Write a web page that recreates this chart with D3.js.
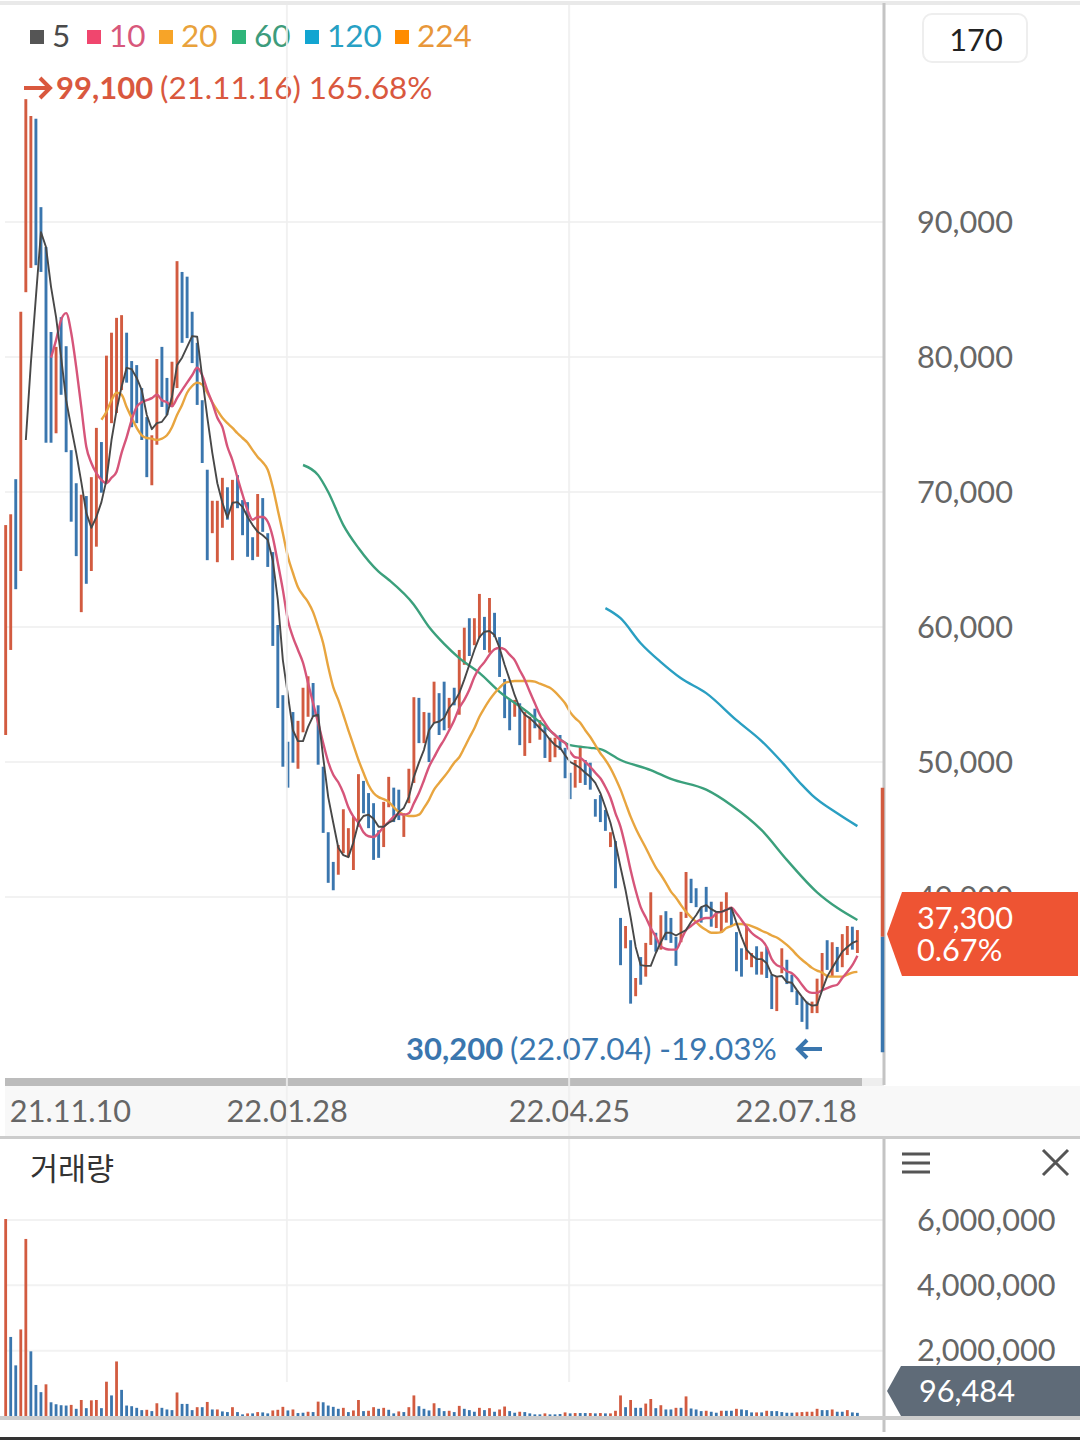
<!DOCTYPE html>
<html>
<head>
<meta charset="utf-8">
<title>chart</title>
<script src="https://cdn.jsdelivr.net/npm/d3@7/dist/d3.min.js"></script>
<style>
  html, body { margin: 0; padding: 0; background: #fff; }
  svg { display: block; }
  text { font-family: Lato, "Noto Sans", sans-serif; }
</style>
</head>
<body>
<svg id="chart" width="1080" height="1440"></svg>
<script>
// bar highs / lows in won, one per trading day
const highs = [
  67550,68350,70950,83350,99100,97850,97650,91100,88150,81850,
  80750,82950,80800,73100,70650,69800,69700,71100,74750,73700,
  80100,81800,82900,83100,81800,79700,79400,77700,75550,74200,
  79850,80750,78450,79650,87100,86300,85950,83350,81050,76800,
  71650,69350,69350,71050,70350,70900,71250,69400,69250,66650,
  69850,69550,66950,65550,60150,54950,51500,53700,53050,55500,
  56350,55850,54200,49650,44800,42600,43850,46500,45100,45950,
  49100,48600,47700,46950,44950,47050,48900,48100,47950,46200,
  49500,54800,54750,53700,53650,55950,55100,55950,54750,55500,
  58300,59950,60650,60650,62450,60750,62150,61050,59250,56150,
  54600,54600,54350,53700,53350,53950,53100,52600,51800,51800,
  52000,51050,49200,50150,51200,50150,49950,47250,47550,46450,
  44800,44150,38450,37850,36800,34000,35550,36600,40350,37350,
  38650,38950,38450,37050,38900,41850,41350,40650,39250,40750,
  39650,38900,39650,40350,39250,37400,36200,37850,35850,36350,
  35950,36300,34250,34100,36200,35350,34250,33050,32600,32250,
  32250,33950,35850,36800,36650,36300,37250,37850,37800,37550
];
const lows = [
  52000,58300,62800,64150,84800,86600,86800,86300,73650,73650,
  74350,77200,72950,67800,65250,61100,63200,64150,65950,69950,
  70650,75100,75850,77550,78100,74800,75100,73850,71100,70500,
  73500,76300,75700,76300,77700,81050,81400,79550,76450,72150,
  64950,66950,64800,67350,67950,64950,68800,66800,65200,64950,
  65200,67050,64450,58600,54000,49650,48100,49950,49500,52200,
  53350,53350,49800,44750,41050,40500,41650,43250,42950,42000,
  45200,46200,45100,42750,42900,43700,46650,45550,45700,44450,
  46950,48450,51400,51400,50000,52900,52000,52350,52500,54200,
  53500,57200,57850,58650,59200,58300,58100,59250,56300,53250,
  52350,53350,51250,50450,51400,52500,51650,50300,50000,50350,
  50900,48800,47250,48100,48450,48300,47950,45950,45550,44900,
  43700,40650,34950,36200,32100,32650,33500,34100,36450,35950,
  36100,36800,36600,34900,36650,38450,39550,39250,38100,38900,
  37800,37700,37350,38100,37850,34500,34100,35350,34800,34250,
  34250,34000,31700,31550,34350,33550,32950,32000,30750,30200,
  31400,31400,33200,34600,34100,34450,34800,35700,36100,35850
];
const barDirs = "RRBRRRBBBBRBBBBRBRRBRRRRBBBBBRRBBRRBBBBBBRRRBRBBBBRBBBBBBBRRRBBBBBRRRRRBBBBRRBBRRRBRBRBBRBRRBRRBRBBBBRBRRBRBRRBBBRRBBBBBRBBRBRBRRBRBBBRRBBBBBRRRBBBRRBRBBRRBBBBBRRRBRBRRBR";

// moving averages, read per bar, first value sits on bar maNStart
const ma5Start = 4;
const ma5 = [
  73850,79550,84450,89250,88150,85200,82950,80000,76800,74800,
  72900,70750,68450,67350,68150,69250,70900,73850,76050,77800,
  79200,79100,78450,77550,75700,74650,75100,75200,75700,77050,
  79400,79950,80750,81550,81500,78500,75550,72900,70650,69200,
  68100,69200,69250,68900,68150,67550,67050,66800,66450,64950,
  62000,57550,54950,52350,51550,51550,52600,53400,53500,50350,
  47400,45500,43650,43100,42950,44050,45500,46000,46100,45800,
  45200,45200,45500,45700,46300,46600,47400,48900,49950,50900,
  52350,52900,53000,53250,54000,54450,55100,56100,57200,58300,
  59250,59650,59700,59400,58450,57200,56100,54950,54000,53500,
  53250,52900,52500,52150,51650,51250,51050,50500,50000,49800,
  49550,49200,48900,48450,47700,46650,45500,44000,42200,40500,
  38500,36300,34950,34900,34900,35850,36650,37350,37350,37150,
  37350,37550,38150,38650,39250,39400,39100,38900,38900,39050,
  39200,38100,37050,36100,35700,35400,35400,35100,34250,34100,
  34150,33700,33650,33100,32600,32150,31950,32000,33100,34100,
  34750,35350,35950,36300,36600,36750
];
const ma10Start = 9;
const ma10 = [
  79950,81250,82750,83250,81800,79250,76300,73350,72150,71400,
  70900,70650,71050,71500,72900,74050,75350,76300,76650,76800,
  76950,77200,76800,76650,76350,76950,77550,78100,78650,79200,
  78650,77550,76600,75500,74800,73350,72350,71050,69800,68650,
  67950,68150,68150,67800,66650,64750,62750,60500,59250,58300,
  57350,55850,54350,52900,51400,50000,49050,48500,47700,46650,
  45950,45500,44800,44500,44450,44750,45200,45550,45950,46150,
  46100,46200,46950,47700,48650,49650,50350,51050,51650,52350,
  53100,54000,54600,55350,56300,56950,57400,57950,58350,58450,
  58350,57950,57550,56800,56100,55200,54350,53500,52900,52350,
  52000,51650,51400,50750,50350,50300,50000,49650,49200,48800,
  48150,47350,46200,45200,43700,42000,40500,39250,38500,37700,
  37050,36350,36150,36100,36100,36800,37550,37850,38150,38350,
  38450,38450,38800,38900,39050,39200,38800,38300,37800,37350,
  37050,36800,36300,35400,34950,34800,34500,34350,34000,33500,
  33050,32900,32900,33100,33250,33400,33500,34000,34450,34950,
  35650
];
const ma20Start = 19;
const ma20 = [
  75350,75950,76800,77350,77200,76300,75500,74750,74200,74000,
  73950,73850,73950,74200,74800,75700,76450,77350,77850,78100,
  77950,77350,76650,76050,75500,75100,74750,74350,74000,73650,
  73100,72600,72200,71650,70350,68650,66950,65200,64000,62950,
  62350,61850,61100,60000,58800,57050,55550,54600,53500,52350,
  51250,50150,49200,48300,47700,47400,47250,47050,46650,46300,
  46100,46000,46000,46100,46600,47200,47950,48450,48900,49400,
  49950,50350,51050,51800,52500,53350,54000,54600,55100,55500,
  55850,55950,56000,56000,56000,56000,55950,55800,55650,55500,
  55200,54800,54350,53700,53250,52900,52350,51850,51250,50650,
  50150,49550,48800,47950,46950,45950,45100,44350,43650,42900,
  42200,41650,41050,40400,39950,39400,38900,38500,38150,37800,
  37550,37350,37350,37400,37700,37850,38000,38000,37950,37850,
  37700,37500,37350,37150,37000,36750,36450,36100,35700,35350,
  35050,34750,34550,34400,34150,34100,34100,34100,34250,34400,
  34450
];
// slow averages, read at these bars
const ma60Bars = [59,62,64,67,70,74,76,81,84,87,90,94,98,103,107,112,116,118,122,128,132,139,144,150,155,161,165,169];
const ma60 = [72000,71250,70000,67550,65850,64100,63500,61650,60000,58750,57700,56600,55200,53850,52650,51250,51050,50950,50150,49400,48750,47950,46800,44950,42750,40350,39200,38300];
const ma120Bars = [119,122,126,130,134,139,145,150,154,158,160,165,169];
const ma120 = [61400,60650,58800,57400,56200,55100,53100,51550,50000,48300,47550,46200,45250];

// volume in thousands of shares
const volumesK = [
  6030,2420,1550,2650,5420,1980,950,730,970,420,
  360,330,320,340,220,490,240,480,490,240,
  1050,630,1670,800,320,300,250,180,190,150,
  390,250,200,180,720,370,370,180,270,270,
  430,200,200,140,120,270,120,50,80,80,
  120,110,80,170,190,280,170,200,90,100,
  130,120,440,420,320,280,220,250,120,170,
  490,150,160,270,220,250,190,80,140,120,
  270,630,300,220,170,390,240,150,160,120,
  310,220,180,130,250,180,240,130,200,290,
  150,100,130,120,80,50,50,80,50,50,
  60,110,80,90,90,90,90,80,90,80,
  80,160,630,270,490,250,250,380,520,240,
  330,200,200,250,250,600,230,200,150,160,
  130,100,160,160,160,220,200,180,110,110,
  110,160,150,150,120,100,100,110,120,130,
  130,220,180,180,200,130,130,180,110,96.484
];
const volumeDirs = "RBBRRBBBRBBBBRBRBRRBRBRBBBBBRBRBBBRBBBRBRBRBBRBBRBRBBRRRBRBBRBRBBBBRBRRBRRBRBBRBRRBBBRBBRBRBBBRBRBRRBBRBBBBRBBBRBRBBRBRBRRRBRBBRRBRBBRBRBBBRBBRBBRBBBRBRBBBBBRRRRRBBRBBRBB";

const priceTicks = [90000, 80000, 70000, 60000, 50000, 40000];
const volumeTicks = [6000000, 4000000, 2000000];
const dateBars = [13, 56, 112, 157];
const dateLabels = ["21.11.10", "22.01.28", "22.04.25", "22.07.18"];
const gridBars = [56, 112];
const legendLabels = ["5", "10", "20", "60", "120", "224"];
const legendSwatches = ["#555555", "#f0466e", "#f7a428", "#2fb57a", "#12a5d1", "#ff8c00"];
const legendColors = ["#4a4a4a", "#d8587c", "#e9a23b", "#3d9c7c", "#27a0c4", "#e8973a"];
const legendX = [30, 87, 159, 232, 305, 395];
const rangeBreaks = [48100, 37050, 28500]; // side gauge: top, current, bottom

const RED = "#d25b40", BLUE = "#3a76ae", GRID = "#f2f2f2", RULE = "#c4c4c4", TICK = "#666";
const LABEL_SIZE = 30.7;

const svg = d3.select("#chart");
const x = d3.scaleLinear().domain([0, 169]).range([5.67, 857.4]);
const y = d3.scaleLinear().domain([90000, 40000]).range([222, 897]);
const yVol = d3.scaleLinear().domain([0, 6000000]).range([1416, 1220]);

// horizontal grid
svg.append("g").selectAll("line").data(priceTicks).enter().append("line")
  .attr("x1", 5).attr("x2", 884).attr("y1", d => y(d)).attr("y2", d => y(d))
  .attr("stroke", GRID).attr("stroke-width", 2);
svg.append("g").selectAll("line").data(volumeTicks).enter().append("line")
  .attr("x1", 5).attr("x2", 884).attr("y1", d => yVol(d)).attr("y2", d => yVol(d))
  .attr("stroke", GRID).attr("stroke-width", 2);

// x axis band and scrollbar
svg.append("rect").attr("x", 5).attr("y", 1086).attr("width", 1075).attr("height", 50).attr("fill", "#f8f8f8");
svg.append("rect").attr("x", 862).attr("y", 1078).attr("width", 22).attr("height", 8).attr("fill", "#eeeeee");
svg.append("rect").attr("x", 5).attr("y", 1078).attr("width", 857).attr("height", 8).attr("fill", "#bcbcbc");

// price bars
svg.append("g").selectAll("line").data(highs).enter().append("line")
  .attr("x1", (d, i) => x(i)).attr("x2", (d, i) => x(i))
  .attr("y1", d => y(d)).attr("y2", (d, i) => y(lows[i]))
  .attr("stroke", (d, i) => barDirs[i] === "R" ? RED : BLUE)
  .attr("stroke-width", 2.9);

// moving averages
const line = d3.line().x(d => x(d[0])).y(d => y(d[1]));
const smooth = d3.line().x(d => x(d[0])).y(d => y(d[1])).curve(d3.curveMonotoneX);
function drawMa(gen, bars, values, color, width) {
  svg.append("path").datum(values.map((v, i) => [bars[i], v]))
    .attr("d", gen).attr("fill", "none")
    .attr("stroke", color).attr("stroke-width", width).attr("stroke-linejoin", "round");
}
const fromStart = (start, values) => values.map((v, i) => start + i);
drawMa(smooth, ma120Bars, ma120, "#2a9fc2", 2.4);
drawMa(smooth, ma60Bars, ma60, "#3ba07c", 2.4);
drawMa(smooth, fromStart(ma20Start, ma20), ma20, "#e8a53f", 2.4);
drawMa(smooth, fromStart(ma10Start, ma10), ma10, "#d6557a", 2.4);
drawMa(line, fromStart(ma5Start, ma5), ma5, "#484848", 1.9);

// volume bars
svg.append("g").selectAll("rect").data(volumesK).enter().append("rect")
  .attr("x", (d, i) => x(i) - 1.4).attr("width", 2.8)
  .attr("y", d => yVol(d * 1000)).attr("height", d => yVol(0) - yVol(d * 1000))
  .attr("fill", (d, i) => volumeDirs[i] === "R" ? RED : BLUE);

// legend
const legend = svg.append("g");
legend.selectAll("rect").data(legendLabels).enter().append("rect")
  .attr("x", (d, i) => legendX[i]).attr("y", 30).attr("width", 14).attr("height", 14)
  .attr("fill", (d, i) => legendSwatches[i]);
legend.selectAll("text").data(legendLabels).enter().append("text")
  .attr("x", (d, i) => legendX[i] + 22).attr("y", 47)
  .attr("font-size", 31.5).attr("fill", (d, i) => legendColors[i]).text(d => d);

// high / low notes
svg.append("path").attr("d", "M24,88H50M40,78L50,88L40,98").attr("fill", "none")
  .attr("stroke", "#d9583e").attr("stroke-width", 4);
svg.append("text").attr("x", 56).attr("y", 99).attr("font-size", 31).attr("font-weight", 700)
  .attr("fill", "#d9583e").text("99,100");
svg.append("text").attr("x", 160).attr("y", 99).attr("font-size", 31.4)
  .attr("fill", "#d9583e").text("(21.11.16) 165.68%");
svg.append("text").attr("x", 406).attr("y", 1060).attr("font-size", 31).attr("font-weight", 700)
  .attr("fill", BLUE).text("30,200");
svg.append("text").attr("x", 510).attr("y", 1060).attr("font-size", 31.5)
  .attr("fill", BLUE).text("(22.07.04) -19.03%");
svg.append("path").attr("d", "M822,1049H798M807,1040L798,1049L807,1058").attr("fill", "none")
  .attr("stroke", BLUE).attr("stroke-width", 4);

// right axes
const priceAxis = d3.axisRight(y).tickValues(priceTicks).tickSize(0).tickPadding(0).tickFormat(d3.format(","));
const volumeAxis = d3.axisRight(yVol).tickValues(volumeTicks).tickSize(0).tickPadding(0).tickFormat(d3.format(","));
[priceAxis, volumeAxis].forEach(axis => {
  const g = svg.append("g").attr("transform", "translate(917,0.5)").call(axis);
  g.select(".domain").remove();
  g.selectAll("text").attr("font-family", "Lato").attr("font-size", LABEL_SIZE).attr("fill", TICK);
});

// date labels
svg.append("g").selectAll("text").data(dateLabels).enter().append("text")
  .attr("x", (d, i) => x(dateBars[i]) - 0.7).attr("y", 1122)
  .attr("text-anchor", "middle").attr("font-size", LABEL_SIZE).attr("fill", TICK).text(d => d);

// vertical grid goes over the notes
svg.append("g").selectAll("line").data(gridBars).enter().append("line")
  .attr("x1", d => x(d) - 1).attr("x2", d => x(d) - 1).attr("y1", 3).attr("y2", 1382)
  .attr("stroke", "#eeeeee").attr("stroke-opacity", 0.85).attr("stroke-width", 2);

// frame rules
svg.append("rect").attr("x", 0).attr("y", 1).attr("width", 1080).attr("height", 4).attr("fill", "#e9e9e9");
svg.append("rect").attr("x", 882.5).attr("y", 3).attr("width", 3).attr("height", 1082).attr("fill", RULE);
svg.append("rect").attr("x", 882.5).attr("y", 1138).attr("width", 3).attr("height", 294).attr("fill", RULE);
svg.append("rect").attr("x", 0).attr("y", 1136).attr("width", 1080).attr("height", 3).attr("fill", "#cccccc");
svg.append("rect").attr("x", 0).attr("y", 1416).attr("width", 1080).attr("height", 4).attr("fill", "#cccccc");
svg.append("rect").attr("x", 0).attr("y", 1437).attr("width", 1080).attr("height", 3).attr("fill", "#333333");

// side gauge of the visible range
svg.append("line").attr("x1", 882.5).attr("x2", 882.5).attr("y1", y(rangeBreaks[0])).attr("y2", y(rangeBreaks[1]))
  .attr("stroke", RED).attr("stroke-width", 3.5);
svg.append("line").attr("x1", 882.5).attr("x2", 882.5).attr("y1", y(rangeBreaks[1])).attr("y2", y(rangeBreaks[2]))
  .attr("stroke", BLUE).attr("stroke-width", 3.5);

// current value tags
svg.append("path").attr("d", "M887,934L902,892H1078V976H902Z").attr("fill", "#ee5433");
svg.append("text").attr("x", 917).attr("y", 929).attr("font-size", LABEL_SIZE).attr("fill", "#fff").text("37,300");
svg.append("text").attr("x", 917).attr("y", 961).attr("font-size", LABEL_SIZE).attr("fill", "#fff").text("0.67%");
svg.append("path").attr("d", "M887,1391L901,1366H1080V1416H901Z").attr("fill", "#5f6b78");
svg.append("text").attr("x", 919).attr("y", 1402).attr("font-size", LABEL_SIZE).attr("fill", "#fff").text("96,484");

// period box
svg.append("rect").attr("x", 923).attr("y", 14).attr("width", 104).attr("height", 48).attr("rx", 9)
  .attr("fill", "#fff").attr("stroke", "#eeeeee").attr("stroke-width", 2);
svg.append("text").attr("x", 976).attr("y", 51).attr("text-anchor", "middle")
  .attr("font-size", LABEL_SIZE).attr("fill", "#222").text("170");

// volume panel header and icons
svg.append("text").attr("x", 30).attr("y", 1180).attr("font-size", 30.5).attr("fill", "#333")
  .style("font-family", '"Noto Sans CJK KR"').text("거래량");
svg.append("path").attr("d", "M902,1154H930M902,1163H930M902,1172H930").attr("fill", "none")
  .attr("stroke", "#555").attr("stroke-width", 3);
svg.append("path").attr("d", "M1043,1150L1068,1175M1068,1150L1043,1175").attr("fill", "none")
  .attr("stroke", "#555").attr("stroke-width", 3);
</script>
</body>
</html>
